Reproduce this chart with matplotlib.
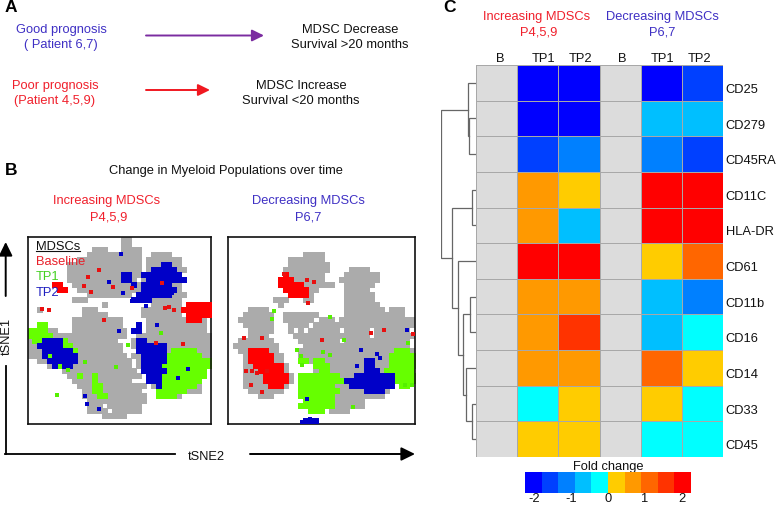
import numpy as np
import matplotlib
matplotlib.use("Agg")
import matplotlib.pyplot as plt
from matplotlib.colors import ListedColormap, BoundaryNorm

W, H = 776, 506
plt.rcParams['font.family'] = ['Liberation Sans', 'DejaVu Sans']

# ---------- heatmap data ----------
markers = ["CD25","CD279","CD45RA","CD11C","HLA-DR","CD61","CD11b","CD16","CD14","CD33","CD45"]
columns = ["B","TP1","TP2","B","TP1","TP2"]
nan = np.nan
fold_b1  = [nan]*11
fold_tp1 = [-2,-2,-1.55,.65,.65,2,.65,.65,.65,-.2,.2]
fold_tp2 = [-2,-2,-1.1,.2,-.65,2,.65,1.55,.65,.2,.2]
fold_b2  = [nan]*11
fold_tp3 = [-2,-.65,-1.1,2,2,.2,-.65,-.65,1.1,.2,-.2]
fold_tp4 = [-1.55,-.65,-1.55,2,2,1.1,-1.1,-.2,.2,-.2,-.2]
heat_colors = ["#0000FF","#0040FF","#0080FF","#00BFFF","#00FFFF",
               "#FFCC00","#FF9900","#FF6600","#FF3300","#FF0000"]
cbar_edges = [-2.25,-1.8,-1.35,-.9,-.45,0,.45,.9,1.35,1.8,2.25]
cbar_ticks = [-2,-1,0,1,2]

# dendrogram merges: (left node, right node, height); leaves 0-10, new nodes from 11
merges = [(1,2,6.7),(0,11,8),(3,4,4.4),(9,10,4.4),(8,14,9.7),(6,7,6.4),
          (16,15,12.7),(5,17,18.4),(13,18,24.4),(12,19,34.7)]

# ---------- tSNE maps on a 5 px grid ----------
# g grey, r Baseline, l TP1, b TP2
map_inc = [
"...................gg................",
"...................gg................",
".............ggg...gggg..............",
"............ggggggggggg..gggg........",
"..........ggggggggggggg.ggggggg......",
"........ggggggggggggggg.gggbbgg......",
"........ggggggggggggggg.gbbbbbgg.....",
"........gggggggggggbbggbbbbbbbb......",
"........gggggggggggbbg.gbbbbbbbb.....",
".....rr..ggggggggggggbgbbbbbbgg......",
"......rr..gggggggggggggbbbbbbbg......",
"............ggggggggg.bbbbbbbggg.....",
".........ggg.........bbbbgggggg......",
"...............g.........gggggg.rrrrr",
"..g........ggg.........ggggggggrrrrrr",
"...........ggggg.......gggggggg.rrrrr",
".........gggggggggg.....ggggggggrrrg.",
"..ll.....gggggggggg...b.gggggggggggg.",
"llllgg...ggggggggggg.bb.gggggggggggg.",
"lllllggggggggggggggg..ggggggggggggggg",
"gllbbbblgggggggggg...gbbggggggggggggg",
"ggbbbbbllgggggggggg..gbbbbbbggggggggg",
"gggbbbbbblggggggggg...bbbbbbglllllggg",
"gggblbbbbbgggggggggg.ggbbbbblllllllgg",
"..ggbbbbbbggggggggggg.gbbbbblllllllll",
"....gblbbgggggggggggg.gbbbbllllllllll",
".......ggggggggggggggg.bbbbbllllllll.",
"........gglgglggggggggg.bbblllllllll.",
".........gggglggggggg...bbbllllllll..",
"..........gggllggggggggg.gblllllllg..",
"...........ggllgggggggg...llllllggg..",
"...........gggllgggggggg..llllg......",
"............gggggggggggg.............",
"............ggg.ggggggg..............",
"............gggg.gggggg..............",
"...............ggggg.................",
".....................................",
]
map_dec = [
".....................................",
".....................................",
".....................................",
"...............gggg..................",
"............ggggggg..................",
"............gggggggg.................",
"...........ggggggggg....gggg.........",
"...........rggggggg....ggggggg.......",
"..........rrrgggggg...gggggggg.......",
"..........rrrrrgggggg..gggggg.......",
"...........rrrrrgg.....ggggg.........",
"............rrrrg......gggggg........",
".........ggg...gg......gggggg........",
"..........g............ggggggg.......",
"....gggg...............gggggggg.ggg..",
"...gggggg..ggggggg.....gggggggggggg..",
"..ggggggg..gggggg.ggg.ggggggggggggggg",
"...gggggg...gggg.gggggggggggggggggggg",
"....ggggg...g.g.gggggg.ggggg.ggggggg",
"....gggg.....ggggggggggggggg.gggggggg",
"..ggggggg.....gggggggg.ggggggggggggg",
".ggggggggg.....ggggggggggggggggggggg",
"..ggrrrrgg....ggggggggggggggggggglllg",
"...grrrrrgg...ggggggggggggggggggllllll",
"...grrrrrgg...llgllggggggggbbggglllllll",
"...ggrrrrrrg.....lllgggggggbbgggllllll",
"...gggrrrrrg.....gllgggggggbbbgllllll",
"...ggggrrrrrg.llllllllgggbbbbbbbbllllll",
"...ggggrrrrrg.lllllllllbbbbbbbbbblllll",
"...gggggrrrg..lllllllgggbbbbbbbbb.ll.",
"....ggggggg...llllllllgggggbbbbg.....",
"......ggg.....lllllllgggggggggg......",
"...............llllllgggggg..........",
"..............lllllllgggggg..........",
"................lll.gggg.............",
".......................................",
"...............bbb...................",
]
# isolated cells on the same grid (columns, rows)
inc_red_x = [14.4,12.2,11.3,17.1,12.7,21.1,15.3,4.3,2.8,27.6,28.6,29.5,25.8,31.3,27.1]
inc_red_y = [6.5,8.0,9.7,9.9,10.8,10.1,16.5,14.5,14.3,14.1,13.9,14.4,21,21.1,9.1]
inc_blue_x = [18.9,16.3,19.3,23.8,18.3,26,11.5,11.9,14.3,32.3,30.3,21.1,29.1]
inc_blue_y = [3.4,8.9,11.1,13.7,18.5,17.5,31.5,33.1,34.1,26.2,27.8,12.7,11]
inc_green_x = [5.9,26.9,20.3,17.8,8.1,11.5]
inc_green_y = [31.3,18.9,21.3,25.7,26.3,24.7]
dec_red_x = [11,15.6,17.1,15.9,3.2,6.8,3.6,4.8,5.8,7.8,4.6,6.7,28.3,30.9,36.6,18.6]
dec_red_y = [7.3,8.5,9,13,19.9,19.9,26.5,26.5,27,26.5,29.2,30.6,19,18.4,19.1,20.4]
dec_green_x = [9.1,8.7,20.2,23,13.7,14.5,18.7,20.2,14.7,24.8,35.7,35,36.5]
dec_green_y = [14.6,16.2,15.8,20.4,22.3,23.5,22.8,23.4,25.3,33.7,21,29.2,29.2]
dec_blue_x = [35.4,15.7,26.3,27.8,30.1,29.4,25.5,16.2,14.7]
dec_blue_y = [18.4,32.1,22.3,24.5,24,23.2,25.5,36.0,36.6]

fig = plt.figure(figsize=(W/100, H/100), dpi=100)

def px_axes(x0, y0, x1, y1, **kw):
    return fig.add_axes([x0/W, 1-y1/H, (x1-x0)/W, (y1-y0)/H], **kw)

bg = px_axes(0, 0, W, H)
bg.set_xlim(0, W); bg.set_ylim(H, 0); bg.axis('off')

BLUE = "#3F30C4"; RED = "#F0202C"; BLK = "#111111"
def T(x, y, s, c=BLK, fs=9.3, ha='center', **kw):
    return bg.text(x, y, s, color=c, fontsize=fs, ha=ha, va='center', **kw)
def arrow(x0, y0, x1, y1, c, lw=1.4, ms=13):
    bg.annotate("", xy=(x1, y1), xytext=(x0, y0),
                arrowprops=dict(arrowstyle="-|>,head_width=0.27,head_length=0.55", color=c, lw=lw,
                                shrinkA=0, shrinkB=0, mutation_scale=ms))

# panel letters
for x, y, s in [(11, 7, "A"), (11, 170, "B"), (450, 7, "C")]:
    T(x, y, s, "black", fs=12.5, fontweight='bold')

# panel A
T(61, 30, "Good prognosis", BLUE)
T(61, 45, "( Patient 6,7)", BLUE)
T(55, 86, "Poor prognosis", RED)
T(55, 101, "(Patient 4,5,9)", RED)
arrow(146, 36.5, 264, 36.5, "#7B2CA0")
arrow(146, 91, 210, 91, "#F01820")
T(350, 30, "MDSC Decrease")
T(350, 45, "Survival >20 months")
T(301, 86, "MDSC Increase")
T(301, 101, "Survival <20 months")

# panel B text
T(226, 171, "Change in Myeloid Populations over time")
T(107, 201, "Increasing MDSCs", RED)
T(109, 217, "P4,5,9", RED)
T(308, 201, "Decreasing MDSCs", BLUE)
T(308, 217, "P6,7", BLUE)
T(7, 336, "tSNE1", rotation=90)
T(206, 457, "tSNE2")
bg.plot([5.7, 5.7], [455, 367], color='black', lw=1.3)
arrow(5.7, 297, 5.7, 243, 'black', ms=15)
bg.plot([5, 175], [455, 455], color='black', lw=1.3)
arrow(250, 455, 415, 455, 'black', ms=15)

def draw_map(ax, grid, red, green, blue):
    order = [('g', "#ABABAB", 1), ('l', "#66FF00", 2), ('r', "#FF0000", 3), ('b', "#0000C8", 4)]
    for ch, col, z in order:
        xs = [c + .5 for r, row in enumerate(grid) for c, k in enumerate(row) if k == ch]
        ys = [r + .5 for r, row in enumerate(grid) for c, k in enumerate(row) if k == ch]
        ax.scatter(xs, ys, s=15, c=col, marker='s', linewidths=0, zorder=z)
    ax.scatter(*red, s=7, c="#E81010", marker='s', linewidths=0, zorder=5)
    ax.scatter(*green, s=7, c="#55F000", marker='s', linewidths=0, zorder=5)
    ax.scatter(*blue, s=7, c="#0000C8", marker='s', linewidths=0, zorder=5)
    ax.set_xlim(0, 37); ax.set_ylim(37, 0)
    ax.set_xticks([]); ax.set_yticks([])
    for sp in ax.spines.values():
        sp.set_linewidth(1.2); sp.set_color("#111111")

a1 = px_axes(28, 238, 211, 425)
draw_map(a1, map_inc, (inc_red_x, inc_red_y), (inc_green_x, inc_green_y), (inc_blue_x, inc_blue_y))
a2 = px_axes(228, 238, 415, 425)
draw_map(a2, map_dec, (dec_red_x, dec_red_y), (dec_green_x, dec_green_y), (dec_blue_x, dec_blue_y))

for ax_y, s, c in [(.95, "MDSCs", BLK), (.87, "Baseline", "#E8202A"), (.79, "TP1", "#44D020"), (.705, "TP2", "#2020C0")]:
    a1.text(.044, ax_y, s, transform=a1.transAxes, color=c, fontsize=9.3, va='center', zorder=6)
a1.plot([.044, .284], [.923, .923], transform=a1.transAxes, color=BLK, lw=.8, zorder=6)

# panel C heatmap
T(537, 17, "Increasing MDSCs", RED)
T(539, 32, "P4,5,9", RED)
T(662, 17, "Decreasing MDSCs", BLUE)
T(662, 32, "P6,7", BLUE)

fold = np.array([fold_b1, fold_tp1, fold_tp2, fold_b2, fold_tp3, fold_tp4]).T
cmap = ListedColormap(heat_colors)
cmap.set_bad("#DCDCDC")
norm = BoundaryNorm(cbar_edges, cmap.N)
hm = px_axes(476, 66, 723, 458)
hm.pcolormesh(np.ma.masked_invalid(fold), cmap=cmap, norm=norm,
              edgecolors="#A8A8A8", linewidth=0.6)
hm.set_ylim(len(markers), 0)
hm.xaxis.tick_top()
hm.set_xticks([.58, 1.63, 2.53, 3.56, 4.53, 5.44], columns, fontsize=9.3, color=BLK)
hm.set_yticks(np.arange(11) + .63, markers, fontsize=9.3, color=BLK)
hm.yaxis.tick_right()
hm.tick_params(length=0, pad=2)
hm.tick_params(axis='x', pad=1)
for sp in hm.spines.values():
    sp.set_visible(False)

# dendrogram
den = px_axes(441, 66, 476, 458)
den.set_xlim(35, 0); den.set_ylim(11, 0); den.axis('off')
nodes = {i: (i + .5, 0.0) for i in range(11)}
for k, (a, b, h) in enumerate(merges):
    ya, ha_ = nodes[a]; yb, hb = nodes[b]
    den.plot([ha_, h, h, hb], [ya, ya, yb, yb], color="#666666", lw=0.9, solid_joinstyle='miter')
    nodes[11 + k] = ((ya + yb) / 2, h)

# colorbar
cax = px_axes(525, 473, 691, 494)
sm = plt.cm.ScalarMappable(norm=norm, cmap=cmap)
cb = fig.colorbar(sm, cax=cax, orientation='horizontal', spacing='proportional', ticks=cbar_ticks)
cb.outline.set_visible(False)
cb.ax.minorticks_off()
cb.ax.tick_params(which='both', length=0, labelsize=9.3, pad=-0.5, colors=BLK)
cb.set_ticklabels(["-2", "-1", "0", "1", "2"])
T(608, 467, "Fold change")

fig.savefig("out.png", dpi=100)
